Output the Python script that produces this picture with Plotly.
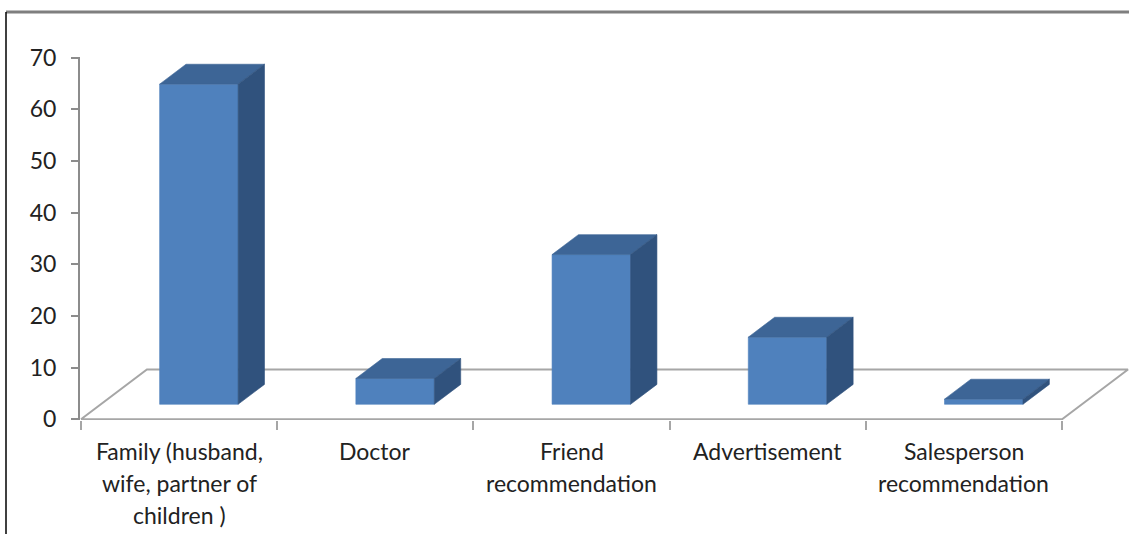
import plotly.graph_objects as go

# Data
categories = [
    "Family (husband,<br>wife, partner of<br>children )",
    "Doctor",
    "Friend<br>recommendation",
    "Advertisement",
    "Salesperson<br>recommendation",
]
values = [62, 5, 29, 13, 1]
y_ticks = [0, 10, 20, 30, 40, 50, 60, 70]

# Page / plot geometry (pixels)
W, H = 1129, 534
M_L, M_R, M_T, M_B = 80, 0, 57, 114
PLOT_H = H - M_T - M_B
BASE_PX = H - M_B            # pixel row of the value 0

# Oblique projection of the floor depth, in data units
X_MAX = 4.841
DEPTH_X = 0.336
DEPTH_Y = 9.64
D_FRONT, D_BACK = 0.3, 0.7   # depth slot occupied by the bars
BAR_W = 0.40

FRONT = "#4F81BD"
TOP = "#3D6596"
SIDE = "#30527D"
FLOOR = "#A6A6A6"
AXIS = "#8C8C8C"
TEXT = "#222222"
FONT = "Lato"

fig = go.Figure()
n = len(categories)

# Floor outline
fx = [-0.5, n - 0.5, n - 0.5 + DEPTH_X, -0.5 + DEPTH_X, -0.5]
fy = [0, 0, DEPTH_Y, DEPTH_Y, 0]
fig.add_trace(go.Scatter(x=fx, y=fy, mode="lines",
                         line=dict(color=FLOOR, width=2),
                         hoverinfo="skip", showlegend=False))


def face(xs, ys, color, name, v):
    fig.add_trace(go.Scatter(
        x=xs + [xs[0]], y=ys + [ys[0]], fill="toself", fillcolor=color,
        mode="lines", line=dict(color=color, width=0.6),
        hovertemplate=f"{name}: {v}<extra></extra>", showlegend=False))


sx = DEPTH_X * (D_BACK - D_FRONT)
sy = DEPTH_Y * (D_BACK - D_FRONT)
for i, (cat, v) in enumerate(zip(categories, values)):
    name = cat.replace("<br>", " ")
    x0 = i + DEPTH_X * D_FRONT - BAR_W / 2
    x1 = x0 + BAR_W
    y0 = DEPTH_Y * D_FRONT
    y1 = y0 + v
    face([x0, x1, x1, x0], [y0, y0, y1, y1], FRONT, name, v)
    face([x0, x1, x1 + sx, x0 + sx], [y1, y1, y1 + sy, y1 + sy], TOP, name, v)
    face([x1, x1 + sx, x1 + sx, x1], [y0, y0 + sy, y1 + sy, y1], SIDE, name, v)

# Category labels, one annotation per text line
LINE0_PX, LINE_STEP = 451, 32
annotations = []
for i, cat in enumerate(categories):
    for j, line in enumerate(cat.split("<br>")):
        py = LINE0_PX + j * LINE_STEP
        annotations.append(dict(
            x=i, xref="x", y=(BASE_PX - py) / PLOT_H, yref="paper",
            text=line, showarrow=False, xanchor="center", yanchor="middle",
            font=dict(family=FONT, size=23, color=TEXT)))


def px_x(p):
    return (p - M_L) / (W - M_L - M_R)


def px_y(p):
    return (BASE_PX - p) / PLOT_H


shapes = [
    dict(type="line", xref="paper", yref="paper",
         x0=px_x(6), x1=px_x(W), y0=px_y(12), y1=px_y(12),
         line=dict(color="#7F7F7F", width=3)),
    dict(type="line", xref="paper", yref="paper",
         x0=px_x(6), x1=px_x(6), y0=px_y(12), y1=px_y(H),
         line=dict(color="#000000", width=1.5)),
]

fig.update_layout(
    width=W, height=H,
    margin=dict(l=M_L, r=M_R, t=M_T, b=M_B),
    paper_bgcolor="white", plot_bgcolor="white",
    showlegend=False,
    annotations=annotations,
    shapes=shapes,
    xaxis=dict(range=[-0.505, X_MAX],
               tickmode="array",
               tickvals=[k - 0.5 for k in range(n + 1)],
               ticktext=[""] * (n + 1),
               ticks="outside", ticklen=9, tickwidth=2, tickcolor=FLOOR,
               showgrid=False, zeroline=False, showline=False, fixedrange=True),
    yaxis=dict(range=[-0.15, 70.15],
               tickmode="array", tickvals=y_ticks,
               ticks="outside", ticklen=7, tickwidth=2, tickcolor=AXIS,
               showline=True, linecolor=AXIS, linewidth=2,
               ticklabelstandoff=10,
               tickfont=dict(family=FONT, size=23, color=TEXT),
               showgrid=False, zeroline=False, fixedrange=True),
)

fig.write_html("out.html")
